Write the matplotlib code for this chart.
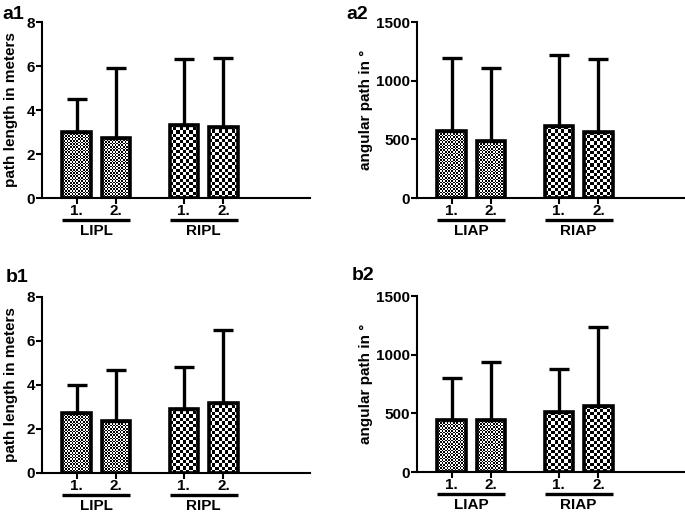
import matplotlib.pyplot as plt
import numpy as np

plt.rcParams["font.family"] = ["Liberation Sans", "DejaVu Sans"]
plt.rcParams["font.weight"] = "bold"

# 値
sessions = ["1.", "2.", "1.", "2."]
groups_path = ["LIPL", "RIPL"]
groups_ang = ["LIAP", "RIAP"]

a1_mean = [3.0, 2.72, 3.32, 3.25]
a1_err = [1.5, 3.18, 2.98, 3.12]
a2_mean = [575, 490, 610, 560]
a2_err = [620, 620, 610, 625]
b1_mean = [2.72, 2.38, 2.92, 3.2]
b1_err = [1.28, 2.32, 1.88, 3.3]
b2_mean = [445, 440, 510, 560]
b2_err = [355, 500, 365, 675]

W, H = 685, 513
xpos = np.array([1.0, 2.0, 3.7, 4.7])


def checker(ax, bar, cell):
    x0, y0 = bar.get_x(), bar.get_y()
    w, h = bar.get_width(), bar.get_height()
    p0 = ax.transData.transform((x0, y0))
    p1 = ax.transData.transform((x0 + w, y0 + h))
    nx = max(1, int(round((p1[0] - p0[0]) / cell)))
    ny = max(1, int(round((p1[1] - p0[1]) / cell)))
    img = np.indices((ny, nx)).sum(0) % 2
    im = ax.imshow(img, cmap="gray", extent=(x0, x0 + w, y0, y0 + h),
                   aspect="auto", interpolation="nearest", zorder=2)
    im.set_clip_path(bar)


def panel(left_px, top_px, means, errs, ymax, yticks, ylabel, label_x,
          groups, tag, tag_xy):
    ax = fig.add_axes([left_px / W, (H - top_px - 176) / H, 268 / W, 176 / H])
    ax.set_xlim(0.13, 6.88)
    ax.set_ylim(0, ymax)
    bars = ax.bar(xpos, means, width=0.71, facecolor="none", edgecolor="black",
                  linewidth=2.6, zorder=3)
    ax.errorbar(xpos, means, yerr=[np.zeros(4), errs], fmt="none", ecolor="black",
                elinewidth=2.4, capsize=7.5, capthick=2.4, zorder=2.5)
    for i, b in enumerate(bars):
        checker(ax, b, 1.6 if i < 2 else 3.2)
    ax.set_xlim(0.13, 6.88)
    ax.set_ylim(0, ymax)

    ax.spines["top"].set_visible(False)
    ax.spines["right"].set_visible(False)
    ax.spines["left"].set_linewidth(1.5)
    ax.spines["bottom"].set_linewidth(1.5)
    ax.set_yticks(yticks)
    ax.set_xticks(xpos)
    ax.set_xticklabels(sessions, fontsize=11, fontweight="bold")
    ax.tick_params(axis="y", labelsize=11, width=1.5, length=4, pad=1)
    ax.tick_params(axis="x", width=1.5, length=4, pad=0)
    for t in ax.get_yticklabels():
        t.set_fontweight("bold")
    ax.set_ylabel(ylabel, fontsize=11, fontweight="bold")
    ax.yaxis.set_label_coords((label_x - left_px) / 268, 0.5)

    trans = ax.get_xaxis_transform()
    for g, (i, j) in zip(groups, [(0, 1), (2, 3)]):
        x0 = xpos[i] - 0.355
        x1 = xpos[j] + 0.355
        ax.plot([x0, x1], [-0.125, -0.125], color="black", lw=2.4,
                transform=trans, clip_on=False, solid_capstyle="butt")
        ax.text((x0 + x1) / 2, -0.15, g, transform=trans, ha="center", va="top",
                fontsize=11, fontweight="bold")
    fig.text(tag_xy[0] / W, 1 - tag_xy[1] / H, tag, fontsize=14,
             fontweight="bold", ha="left", va="center")
    return ax


fig = plt.figure(figsize=(W / 100, H / 100), dpi=100)
fig.canvas.draw()

panel(42, 22, a1_mean, a1_err, 8, [0, 2, 4, 6, 8], "path length in meters", 18,
      groups_path, "a1", (2, 15))
panel(417, 22, a2_mean, a2_err, 1500, [0, 500, 1000, 1500], "angular path in °", 373,
      groups_ang, "a2", (346, 15))
panel(42, 297, b1_mean, b1_err, 8, [0, 2, 4, 6, 8], "path length in meters", 18,
      groups_path, "b1", (6, 277))
panel(417, 296, b2_mean, b2_err, 1500, [0, 500, 1000, 1500], "angular path in °", 373,
      groups_ang, "b2", (352, 276))

fig.savefig("out.png", dpi=100)
